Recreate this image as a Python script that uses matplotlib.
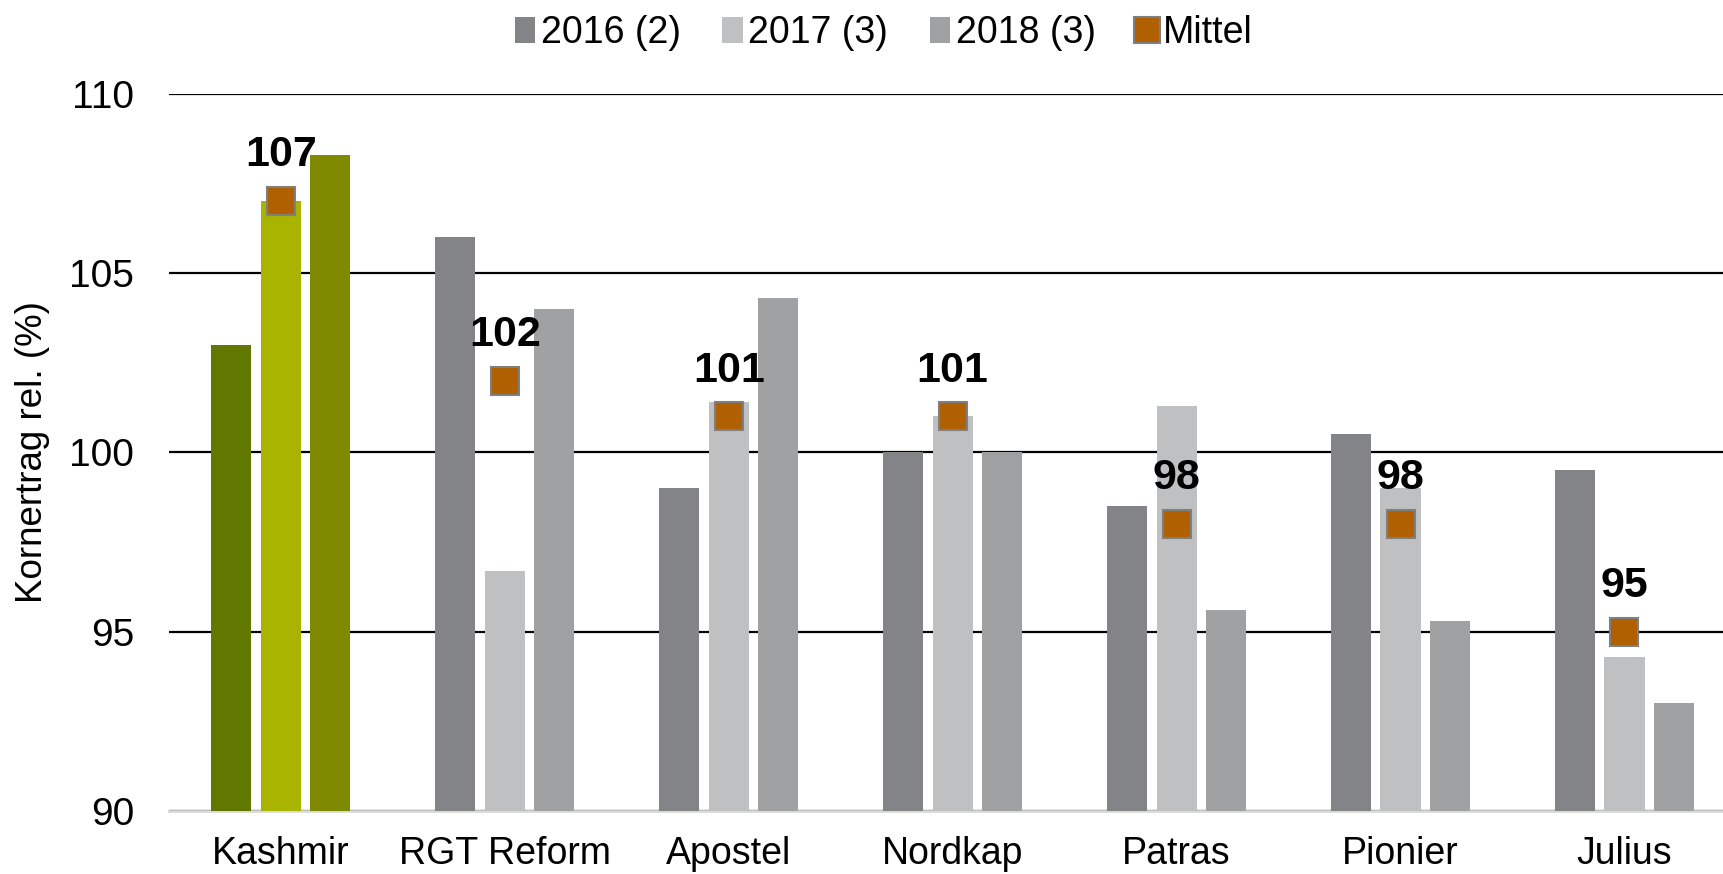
import numpy as np
import matplotlib
matplotlib.use("Agg")
import matplotlib.pyplot as plt
from matplotlib.patches import Patch
from matplotlib.lines import Line2D

plt.rcParams['font.family'] = ['Liberation Sans', 'DejaVu Sans']

sorten = ['Kashmir', 'RGT Reform', 'Apostel', 'Nordkap', 'Patras', 'Pionier', 'Julius']
j2016 = [103.0, 106.0, 99.0, 100.0, 98.5, 100.5, 99.5]
j2017 = [107.0, 96.7, 101.4, 101.0, 101.3, 99.0, 94.3]
j2018 = [108.3, 104.0, 104.3, 100.0, 95.6, 95.3, 93.0]
mittel = [107, 102, 101, 101, 98, 98, 95]
serien = ['2016 (2)', '2017 (3)', '2018 (3)', 'Mittel']

grau = ['#838488', '#BFC0C2', '#A0A1A3']
gruen = ['#607800', '#A8B400', '#808A00']
orange = '#B06000'

fig = plt.figure(figsize=(17.23, 8.74), dpi=100)
ax = fig.add_axes([0.098, 0.072, 0.902, 0.821])

x = np.arange(len(sorten))
w = 0.179
d = 0.221
for k, werte in enumerate([j2016, j2017, j2018]):
    farben = [gruen[k]] + [grau[k]] * (len(sorten) - 1)
    ax.bar(x + (k - 1) * d, np.array(werte) - 90, width=w, bottom=90,
           color=farben, zorder=3)

ax.plot(x, mittel, ls='none', marker='s', markersize=20,
        markerfacecolor=orange, markeredgecolor='#7F7F7F',
        markeredgewidth=1.5, zorder=4)
for xi, m in zip(x, mittel):
    ax.annotate(str(m), (xi, m), xytext=(0, 33), textcoords='offset points',
                ha='center', va='center', fontsize=31, fontweight='bold',
                zorder=5)

ax.set_ylim(90, 110)
ax.set_yticks([90, 95, 100, 105, 110])
ax.set_xlim(-0.5, 6.44)
ax.set_xticks(x)
ax.set_xticklabels(sorten)
ax.tick_params(axis='both', length=0, labelsize=28)
ax.tick_params(axis='x', labelsize=27, pad=18)
ax.tick_params(axis='y', pad=25)
ax.grid(axis='y', color='black', linewidth=1.6, zorder=0)
for s in ['top', 'right', 'left']:
    ax.spines[s].set_visible(False)
ax.spines['bottom'].set_color('#D9D9D9')
ax.spines['bottom'].set_linewidth(2)
ax.spines['bottom'].set_zorder(2)
ax.set_ylabel('Kornertrag rel. (%)', fontsize=26.5, labelpad=14)

handles = [Patch(facecolor=grau[0]), Patch(facecolor=grau[1]), Patch(facecolor=grau[2]),
           Line2D([], [], ls='none', marker='s', markersize=19,
                  markerfacecolor=orange, markeredgecolor='#7F7F7F', markeredgewidth=1.5)]
fig.legend(handles, serien, loc='center', bbox_to_anchor=(0.513, 0.962), ncol=4,
           frameon=False, fontsize=27, handlelength=0.55, handleheight=0.7,
           handletextpad=0.15, columnspacing=1.1)

fig.savefig('out.png', dpi=100)
